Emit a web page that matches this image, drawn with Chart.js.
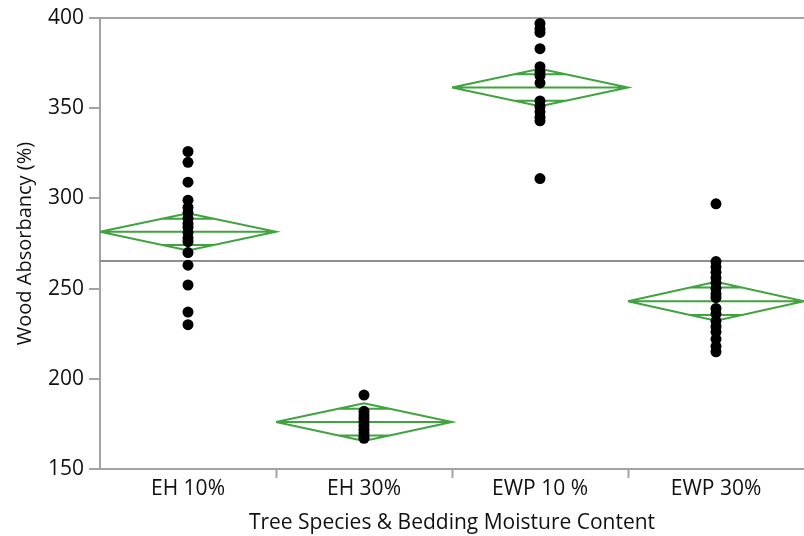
<!DOCTYPE html>
<html>
<head>
<meta charset="utf-8">
<script src="https://cdn.jsdelivr.net/npm/chart.js@4/dist/chart.umd.min.js"></script>
<style>
  body { margin: 0; background: #fff; }
  canvas { display: block; }
</style>
</head>
<body>
<canvas id="chart" width="804" height="536"></canvas>
<script>
// categories on the x axis
const categories = ['EH 10%', 'EH 30%', 'EWP 10 %', 'EWP 30%'];

const eh10 = [326, 320, 309, 299, 295, 292, 289, 286, 284, 281, 278, 276, 270, 263, 252, 237, 230];
const eh30 = [191, 182, 180, 178, 176, 174, 172, 170, 168, 167];
const ewp10 = [397, 394, 392, 383, 373, 370, 368, 364, 354, 351, 348, 345, 343, 311];
const ewp30 = [297, 265, 262, 259, 256, 253, 250, 247, 245, 239, 236, 232, 229, 226, 222, 218, 215];

// means diamonds: group mean and half height of the diamond (95% CI)
const groupMeans = [281.5, 176, 361.5, 243];
const ciHalf = [10.3, 10.5, 10.4, 10.8];
const grandMean = 265.3;

// y axis ticks
const yMin = 150, yMax = 400, yMajor = 50, yMinor = 25;

const groups = [eh10, eh30, ewp10, ewp30];
const grey = '#a3a3a3';
const green = '#3fa33f';

// dots
const dots = [];
groups.forEach((g, i) => g.forEach(v => dots.push({ x: i + 0.5, y: v })));

// diamonds + mean line + overlap marks, separated with gaps
const diamonds = [];
const k = 1 / Math.SQRT2;
groupMeans.forEach((m, i) => {
  const h = ciHalf[i];
  const c = i + 0.5;
  const w = (1 - k) * 0.5;
  diamonds.push({ x: i, y: m }, { x: c, y: m + h }, { x: i + 1, y: m }, { x: c, y: m - h }, { x: i, y: m }, { x: i, y: null });
  diamonds.push({ x: i, y: m }, { x: i + 1, y: m }, { x: i + 1, y: null });
  diamonds.push({ x: c - w, y: m + h * k }, { x: c + w, y: m + h * k }, { x: c, y: null });
  diamonds.push({ x: c - w, y: m - h * k }, { x: c + w, y: m - h * k }, { x: c, y: null });
});

const font = { family: '"Open Sans", "Noto Sans", sans-serif', size: 21 };

new Chart(document.getElementById('chart'), {
  type: 'scatter',
  data: {
    datasets: [
      {
        data: dots,
        pointRadius: 5.5,
        pointBackgroundColor: '#000',
        pointBorderWidth: 0,
        clip: false
      },
      {
        data: diamonds,
        showLine: true,
        spanGaps: false,
        borderColor: green,
        borderWidth: 2,
        pointRadius: 0,
        clip: false
      },
      {
        data: [{ x: 0, y: grandMean }, { x: 4, y: grandMean }],
        showLine: true,
        borderColor: '#8f8f8f',
        borderWidth: 2,
        pointRadius: 0
      }
    ]
  },
  options: {
    responsive: false,
    animation: false,
    devicePixelRatio: 1,
    layout: { autoPadding: false, padding: { top: 18, right: 0, bottom: 0, left: 0 } },
    plugins: { legend: { display: false }, tooltip: { enabled: false } },
    scales: {
      x: {
        type: 'linear',
        min: 0,
        max: 4,
        afterBuildTicks: axis => {
          axis.ticks = [0.5, 1, 1.5, 2, 2.5, 3, 3.5].map(v => ({ value: v }));
        },
        afterFit: scale => {
          scale.height = 67;
          scale.paddingLeft = 0;
          scale.paddingRight = 0;
        },
        border: { color: grey, width: 2 },
        grid: {
          drawOnChartArea: false,
          tickLength: 9,
          tickWidth: 2,
          tickColor: ctx => Number.isInteger(ctx.tick.value) ? grey : 'transparent'
        },
        ticks: {
          autoSkip: false,
          maxRotation: 0,
          padding: -2,
          color: '#111',
          font: font,
          callback: v => (v % 1 ? categories[Math.floor(v)] : '')
        },
        title: {
          display: true,
          text: 'Tree Species & Bedding Moisture Content',
          color: '#111',
          font: font,
          padding: { top: 0, bottom: 0 }
        }
      },
      y: {
        min: yMin,
        max: yMax,
        afterFit: scale => { scale.width = 100; },
        border: { color: grey, width: 2 },
        grid: {
          drawOnChartArea: true,
          tickLength: 11,
          tickWidth: 2,
          color: ctx => ctx.tick.value === yMax ? grey : 'transparent',
          lineWidth: 2,
          tickColor: grey
        },
        ticks: {
          stepSize: yMajor,
          padding: 5,
          color: '#111',
          font: font
        },
        title: {
          display: true,
          text: 'Wood Absorbancy (%)',
          color: '#111',
          font: { family: font.family, size: 20 },
          padding: { top: 13, bottom: 0 }
        }
      },
      // minor ticks only
      yMinorAxis: {
        position: 'left',
        min: yMin,
        max: yMax,
        afterFit: scale => { scale.width = 0; },
        border: { display: false },
        grid: {
          drawOnChartArea: false,
          tickLength: 6,
          tickWidth: 2,
          tickColor: grey
        },
        ticks: { stepSize: yMinor, display: false }
      }
    }
  }
});
</script>
</body>
</html>
